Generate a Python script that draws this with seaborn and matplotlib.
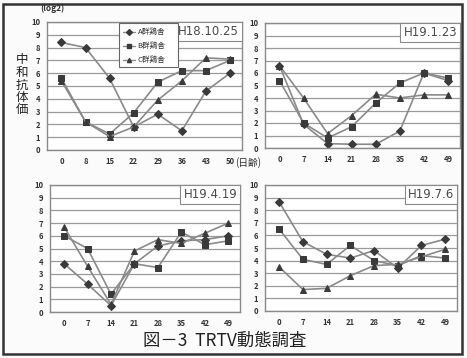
import numpy as np
import pandas as pd
import matplotlib
matplotlib.use("Agg")
import matplotlib.pyplot as plt
from matplotlib.patches import Rectangle
import seaborn as sns

# ===================== data =====================
groups = ["A群鶏舎", "B群鶏舎", "C群鶏舎"]

days_p1 = ["0", "8", "15", "22", "29", "36", "43", "50"]
days_p2 = ["0", "7", "14", "21", "28", "35", "42", "49"]

titles = ["H18.10.25", "H19.1.23", "H19.4.19", "H19.7.6"]

p1_a = [8.4, 8.0, 5.6, 1.8, 2.8, 1.5, 4.6, 6.0]
p1_b = [5.6, 2.2, 1.25, 2.9, 5.3, 6.2, 6.2, 7.0]
p1_c = [5.4, 2.2, 1.05, 1.8, 3.9, 5.4, 7.2, 7.1]

p2_a = [6.6, 1.9, 0.35, 0.3, 0.3, 1.35, 6.0, 5.4]
p2_b = [5.4, 2.0, 0.8, 1.7, 3.6, 5.2, 6.0, 5.6]
p2_c = [6.6, 4.0, 1.15, 2.6, 4.3, 4.0, 4.25, 4.25]

p3_a = [3.8, 2.2, 0.5, 3.8, 5.2, 5.6, 5.7, 6.0]
p3_b = [6.0, 5.0, 1.4, 3.8, 3.5, 6.3, 5.3, 5.6]
p3_c = [6.7, 3.6, 0.6, 4.8, 5.7, 5.4, 6.2, 7.0]

p4_a = [8.65, 5.5, 4.5, 4.2, 4.8, 3.4, 5.2, 5.7]
p4_b = [6.5, 4.1, 3.7, 5.2, 4.0, 3.6, 4.4, 4.2]
p4_c = [3.5, 1.7, 1.8, 2.8, 3.6, 3.7, 4.3, 4.9]

y_ticks = list(range(0, 11))


def make_df(days, a, b, c):
    rows = []
    for g, vals in zip(groups, [a, b, c]):
        for i, (d, v) in enumerate(zip(days, vals)):
            rows.append({"pos": i, "day": d, "group": g, "value": v})
    return pd.DataFrame(rows)


panels = [
    (make_df(days_p1, p1_a, p1_b, p1_c), days_p1, [47, 22, 242, 150]),
    (make_df(days_p2, p2_a, p2_b, p2_c), days_p2, [265, 23, 460, 148]),
    (make_df(days_p2, p3_a, p3_b, p3_c), days_p2, [50, 185, 240, 312]),
    (make_df(days_p2, p4_a, p4_b, p4_c), days_p2, [265, 185, 457, 311]),
]

# ===================== style =====================
sns.set_style("white")
plt.rcParams["font.family"] = ["Noto Sans CJK JP", "DejaVu Sans"]

W, H = 467, 358
fig = plt.figure(figsize=(W / 100, H / 100), dpi=100)
fig.patch.set_facecolor("#fbfbfb")

line_col = "#8a8a8a"
mark_col = "#3a3a3a"
markers = {"A群鶏舎": "D", "B群鶏舎": "s", "C群鶏舎": "^"}
palette = {g: line_col for g in groups}

for k, (df, days, (x0, y0, x1, y1)) in enumerate(panels):
    ax = fig.add_axes([x0 / W, 1 - y1 / H, (x1 - x0) / W, (y1 - y0) / H])
    ax.set_facecolor("white")
    for yv in y_ticks:
        ax.axhline(yv, color="#9a9a9a", lw=0.9, zorder=0)
    sns.lineplot(data=df, x="pos", y="value", hue="group", style="group",
                 markers=markers, dashes=False, palette=palette, lw=1.2,
                 markersize=4, markerfacecolor=mark_col, markeredgecolor=mark_col,
                 legend=False, ax=ax)
    ax.set_xlim(-0.6, 7.5)
    ax.set_ylim(0, 10)
    ax.set_xticks(range(len(days)))
    ax.set_xticklabels(days, fontsize=5.5, fontweight="bold", color="#333333")
    ax.set_yticks(y_ticks)
    ax.set_yticklabels([str(v) for v in y_ticks], fontsize=5.5,
                       fontweight="bold", color="#333333")
    ax.tick_params(axis="x", length=0, pad=5)
    ax.tick_params(axis="y", length=0, pad=5)
    ax.set_xlabel("")
    ax.set_ylabel("")
    for s in ax.spines.values():
        s.set_color("#8a8a8a")
        s.set_linewidth(1.0)

    ax.text(0.985, 0.975, titles[k], transform=ax.transAxes, ha="right", va="top",
            fontsize=8.5, color="#4a4a4a", family=["DejaVu Sans"],
            bbox=dict(boxstyle="square,pad=0.25", fc="white", ec="#8a8a8a", lw=0.8))

    if k == 0:
        lx, ly = 0.39, 0.97
        box = Rectangle((lx - 0.02, ly - 0.32), 0.30, 0.34, transform=ax.transAxes,
                        fc="white", ec="#666666", lw=0.8, zorder=4)
        ax.add_patch(box)
        for j, g in enumerate(groups):
            yy = ly - 0.045 - j * 0.11
            ax.plot([lx, lx + 0.06], [yy, yy], transform=ax.transAxes,
                    color=line_col, lw=1.0, zorder=5)
            ax.plot([lx + 0.03], [yy], transform=ax.transAxes, marker=markers[g],
                    color=mark_col, ms=3, zorder=6)
            ax.text(lx + 0.075, yy, g, transform=ax.transAxes, va="center",
                    ha="left", fontsize=5.5, color="#333333", zorder=6)

# y label, units, x unit
fig.text(22 / W, 1 - 85 / H, "\n".join("中和抗体価"), ha="center", va="center",
         fontsize=9, linespacing=0.95, color="#222222")
fig.text(52 / W, 1 - 8 / H, "(log2)", ha="center", va="center",
         fontsize=6, fontweight="bold", color="#333333")
fig.text(248 / W, 1 - 163 / H, "(日齢)", ha="center", va="center",
         fontsize=7, color="#333333")

# caption
fig.text(225 / W, 1 - 341 / H, "図－3  TRTV動態調査", ha="center", va="center",
         fontsize=12.5, color="#222222")

# outer frame
fig.add_artist(Rectangle((3 / W, 4 / H), (W - 8) / W, (H - 8) / H,
                         transform=fig.transFigure, fill=False,
                         ec="#333333", lw=1.8))

fig.savefig("out.png", dpi=100, facecolor=fig.get_facecolor())
